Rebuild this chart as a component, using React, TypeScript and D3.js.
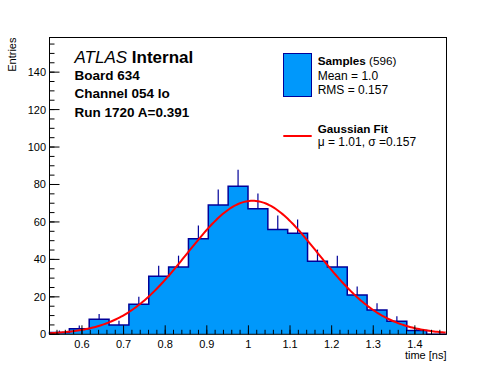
import React from "react";
import * as d3 from "d3";

// histogram contents (20 bins spanning the x range)
const binCounts = [1, 3, 8, 5, 16, 31, 36, 51, 69, 79, 67, 56, 54, 39, 36, 21, 13, 7, 2, 0];
const xRange = [0.522, 1.476];
const yMax = 158.5;

const xTickValues = [0.6, 0.7, 0.8, 0.9, 1.0, 1.1, 1.2, 1.3, 1.4];
const xTickLabels = ["0.6", "0.7", "0.8", "0.9", "1", "1.1", "1.2", "1.3", "1.4"];
const yTickValues = [0, 20, 40, 60, 80, 100, 120, 140];
const yTickLabels = ["0", "20", "40", "60", "80", "100", "120", "140"];

// gaussian fit result
const fitMean = 1.01;
const fitSigma = 0.157;
const fitAmp = 71.3;

const headerLines = ["Board 634", "Channel 054 lo", "Run 1720 A=0.391"];

const FONT = "'Liberation Sans', Arial, Helvetica, sans-serif";
const fill = "#0098fb";
const edge = "#000099";

export default function App() {
  const W = 496, H = 372;
  const left = 49.5, right = 446.5, top = 37.5, bottom = 334.3;

  const x = d3.scaleLinear().domain(xRange).range([left, right]);
  const y = d3.scaleLinear().domain([0, yMax]).range([bottom, top]);

  const nb = binCounts.length;
  const bw = (xRange[1] - xRange[0]) / nb;
  const edges = d3.range(nb + 1).map((i) => xRange[0] + i * bw);

  // step outline
  let step = `M${x(edges[0])},${y(0)}`;
  binCounts.forEach((c, i) => {
    step += `L${x(edges[i])},${y(c)}L${x(edges[i + 1])},${y(c)}`;
  });
  step += `L${x(edges[nb])},${y(0)}`;
  const areaPath = step + "Z";

  const fitPts = d3.range(xRange[0], xRange[1] + 0.0001, 0.004).map((t) => [
    t,
    fitAmp * Math.exp(-0.5 * ((t - fitMean) / fitSigma) ** 2),
  ]);
  const fitLine = d3
    .line<number[]>()
    .x((d) => x(d[0]))
    .y((d) => y(Math.min(d[1], yMax)));

  const xMinor = d3.range(0.54, 1.4701, 0.02);
  const yMinor = d3.range(0, yMax, 5);

  return (
    <svg
      width={W}
      height={H}
      style={{ position: "absolute", left: 0, top: 0, background: "#fff" }}
      fontFamily={FONT}
    >
      <rect x={0} y={0} width={W} height={H} fill="#fff" />

      {/* histogram */}
      <path d={areaPath} fill={fill} stroke="none" />
      <path d={step} fill="none" stroke={edge} strokeWidth={1.5} />
      {binCounts.map((c, i) =>
        c > 0 ? (
          <line
            key={"e" + i}
            x1={x(edges[i] + bw / 2)}
            x2={x(edges[i] + bw / 2)}
            y1={y(c)}
            y2={y(c + Math.sqrt(c))}
            stroke={edge}
            strokeWidth={1.2}
          />
        ) : null
      )}

      {/* fit curve */}
      <path d={fitLine(fitPts) || ""} fill="none" stroke="#ff0000" strokeWidth={2} />

      {/* frame */}
      <rect x={left} y={top} width={right - left} height={bottom - top} fill="none" stroke="#000" strokeWidth={1} />

      {/* x axis ticks */}
      {xMinor.map((t, i) => (
        <line key={"xm" + i} x1={x(t)} x2={x(t)} y1={bottom} y2={bottom - 4.5} stroke="#000" />
      ))}
      {xTickValues.map((t, i) => (
        <g key={"xt" + i}>
          <line x1={x(t)} x2={x(t)} y1={bottom} y2={bottom - 9} stroke="#000" />
          <text x={x(t)} y={347.5} fontSize={11} textAnchor="middle">
            {xTickLabels[i]}
          </text>
        </g>
      ))}
      <text x={right} y={358.5} fontSize={11} textAnchor="end">
        time [ns]
      </text>

      {/* y axis ticks */}
      {yMinor.map((t, i) => (
        <line key={"ym" + i} x1={left} x2={left + 5} y1={y(t)} y2={y(t)} stroke="#000" />
      ))}
      {yTickValues.map((t, i) => (
        <g key={"yt" + i}>
          <line x1={left} x2={left + 10} y1={y(t)} y2={y(t)} stroke="#000" />
          <text x={46} y={y(t) + 4} fontSize={11} textAnchor="end">
            {yTickLabels[i]}
          </text>
        </g>
      ))}
      <text transform={`translate(16,${top}) rotate(-90)`} fontSize={11} textAnchor="end">
        Entries
      </text>

      {/* header */}
      <text x={74.5} y={62.7} fontSize={17}>
        <tspan fontStyle="italic">ATLAS</tspan>
        <tspan fontWeight="bold"> Internal</tspan>
      </text>
      {headerLines.map((s, i) => (
        <text key={"h" + i} x={74.5} y={80 + i * 18.35} fontSize={13.5} fontWeight="bold">
          {s}
        </text>
      ))}

      {/* legend */}
      <rect x={283.5} y={53.5} width={28} height={43} fill={fill} stroke={edge} strokeWidth={1} />
      <text x={317.7} y={65} fontSize={11.7}>
        <tspan fontWeight="bold">Samples</tspan>
        <tspan> (596)</tspan>
      </text>
      <text x={317.7} y={80} fontSize={12}>
        Mean = 1.0
      </text>
      <text x={317.7} y={94} fontSize={12}>
        RMS = 0.157
      </text>
      <line x1={283.3} x2={311.7} y1={136} y2={136} stroke="#ff0000" strokeWidth={2} />
      <text x={317.7} y={133.3} fontSize={11.7} fontWeight="bold">
        Gaussian Fit
      </text>
      <text x={317.7} y={145.5} fontSize={12}>
        μ = 1.01, σ =0.157
      </text>
    </svg>
  );
}
